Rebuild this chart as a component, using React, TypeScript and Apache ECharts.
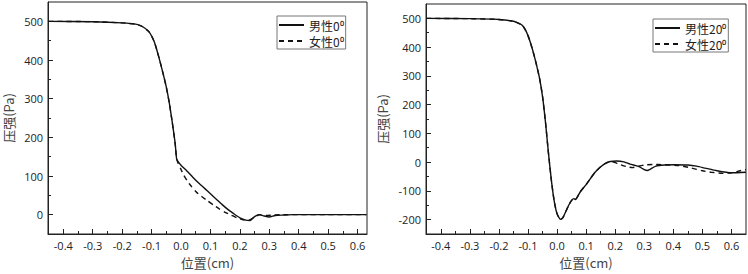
import { useEffect, useRef } from "react";
import * as echarts from "echarts";

// ---- data (x in cm, pressure in Pa) ----
const male0: [number, number][] = [
  [-0.45, 500], [-0.3, 499], [-0.2, 496], [-0.15, 492], [-0.13, 486], [-0.11, 474],
  [-0.1, 462], [-0.09, 445], [-0.08, 420], [-0.07, 392], [-0.06, 362], [-0.05, 330],
  [-0.04, 290], [-0.03, 240], [-0.02, 185], [-0.015, 145], [-0.01, 137], [0, 128],
  [0.02, 113], [0.04, 97], [0.06, 82], [0.08, 68], [0.1, 54], [0.12, 40], [0.14, 26],
  [0.16, 13], [0.18, 2], [0.2, -8], [0.22, -14], [0.235, -15], [0.25, -5], [0.265, 0],
  [0.28, -3], [0.3, -6], [0.32, -2], [0.35, -1], [0.38, 0], [0.5, 0], [0.63, 0],
];
const female0: [number, number][] = [
  [-0.45, 500], [-0.3, 499], [-0.2, 496], [-0.15, 492], [-0.13, 486], [-0.11, 474],
  [-0.1, 462], [-0.09, 445], [-0.08, 420], [-0.07, 392], [-0.06, 362], [-0.05, 330],
  [-0.04, 290], [-0.03, 240], [-0.02, 185], [-0.015, 145], [-0.01, 133], [0, 117],
  [0.01, 101], [0.02, 89], [0.03, 78], [0.05, 60], [0.07, 47], [0.09, 36], [0.11, 25],
  [0.13, 15], [0.15, 6], [0.17, -1], [0.19, -8], [0.21, -13], [0.23, -14], [0.25, -6],
  [0.27, 0], [0.29, -2], [0.31, -1], [0.34, 0], [0.5, 0], [0.63, 0],
];
const male20: [number, number][] = [
  [-0.45, 500], [-0.3, 499], [-0.2, 496], [-0.15, 490], [-0.13, 482], [-0.12, 476],
  [-0.11, 462], [-0.1, 440], [-0.09, 410], [-0.08, 375], [-0.07, 335], [-0.06, 290],
  [-0.05, 228], [-0.04, 140], [-0.03, 35], [-0.02, -60], [-0.01, -135], [0, -180],
  [0.012, -199], [0.02, -193], [0.03, -172], [0.04, -150], [0.05, -133], [0.058, -127],
  [0.063, -130], [0.08, -103], [0.1, -78], [0.114, -58], [0.13, -36], [0.148, -18],
  [0.165, -5], [0.183, 2], [0.205, 4], [0.23, 1], [0.251, -7], [0.28, -15], [0.3, -26],
  [0.31, -29], [0.32, -25], [0.34, -14], [0.37, -10], [0.4, -9], [0.45, -10],
  [0.48, -14], [0.51, -21], [0.55, -30], [0.6, -37], [0.65, -35],
];
const female20: [number, number][] = [
  [-0.45, 500], [-0.3, 499], [-0.2, 496], [-0.15, 490], [-0.13, 482], [-0.12, 476],
  [-0.11, 462], [-0.1, 440], [-0.09, 410], [-0.08, 375], [-0.07, 335], [-0.06, 290],
  [-0.05, 228], [-0.04, 140], [-0.03, 35], [-0.02, -60], [-0.01, -135], [0, -180],
  [0.012, -199], [0.02, -193], [0.03, -172], [0.04, -150], [0.05, -133], [0.058, -127],
  [0.063, -130], [0.08, -103], [0.1, -78], [0.114, -58], [0.13, -36], [0.148, -18],
  [0.165, -5], [0.183, 1], [0.195, 0], [0.21, -6], [0.24, -16], [0.26, -19], [0.28, -14],
  [0.3, -10], [0.33, -8], [0.37, -9], [0.42, -12], [0.46, -20], [0.5, -30], [0.53, -35],
  [0.57, -39], [0.6, -37], [0.63, -30], [0.65, -26],
];

const seriesNames = ["男性0⁰", "女性0⁰", "男性20⁰", "女性20⁰"];
const xMajor = [-0.4, -0.3, -0.2, -0.1, 0, 0.1, 0.2, 0.3, 0.4, 0.5, 0.6];
const xMinor = [-0.35, -0.25, -0.15, -0.05, 0.05, 0.15, 0.25, 0.35, 0.45, 0.55];
const yMajorLeft = [0, 100, 200, 300, 400, 500];
const yMinorLeft = [50, 150, 250, 350, 450];
const yMajorRight = [-200, -100, 0, 100, 200, 300, 400, 500];
const yMinorRight = [-150, -50, 50, 150, 250, 350, 450];
const xTitle = "位置(cm)";
const yTitle = "压强(Pa)";

const AXIS = "#222";
const LABEL_FONT = { fontFamily: "'Open Sans', sans-serif", fontSize: 11, color: "#222" };
const NAME_FONT = { fontFamily: "'Noto Sans CJK SC', sans-serif", fontSize: 13, color: "#444" };

function xAxes(grid: number, min: number, max: number) {
  return [
    {
      type: "value", gridIndex: grid, min, max, position: "bottom",
      axisLine: { show: true, onZero: false, lineStyle: { color: AXIS, width: 1 } },
      axisTick: { show: true, inside: true, length: 5, customValues: xMajor, lineStyle: { color: AXIS } },
      axisLabel: { customValues: xMajor, formatter: (v: number) => v.toFixed(1), margin: 6, ...LABEL_FONT },
      splitLine: { show: false },
      name: xTitle, nameLocation: "middle", nameGap: 22, nameTextStyle: NAME_FONT,
    },
    {
      type: "value", gridIndex: grid, min, max, position: "bottom",
      axisLine: { show: false, onZero: false },
      axisTick: { show: true, inside: true, length: 3, customValues: xMinor, lineStyle: { color: AXIS } },
      axisLabel: { show: false },
      splitLine: { show: false },
    },
  ];
}

function yAxes(grid: number, min: number, max: number, major: number[], minor: number[], gap: number) {
  return [
    {
      type: "value", gridIndex: grid, min, max, position: "left",
      axisLine: { show: true, onZero: false, lineStyle: { color: AXIS, width: 1 } },
      axisTick: { show: true, inside: true, length: 5, customValues: major, lineStyle: { color: AXIS } },
      axisLabel: { customValues: major, margin: 5, ...LABEL_FONT },
      splitLine: { show: false },
      name: yTitle, nameLocation: "middle", nameGap: gap, nameTextStyle: NAME_FONT,
    },
    {
      type: "value", gridIndex: grid, min, max, position: "left",
      axisLine: { show: false, onZero: false },
      axisTick: { show: true, inside: true, length: 3, customValues: minor, lineStyle: { color: AXIS } },
      axisLabel: { show: false },
      splitLine: { show: false },
    },
  ];
}

function lineSeries(name: string, data: [number, number][], axisIdx: number, dashed: boolean) {
  return {
    type: "line", name, data, xAxisIndex: axisIdx, yAxisIndex: axisIdx,
    symbol: "none", smooth: 0.2,
    lineStyle: { color: "#111", width: 1.4, type: dashed ? [5, 4] : "solid" },
    itemStyle: { color: "#111" },
  };
}

function legend(names: string[], left: number, top: number) {
  return {
    data: names, orient: "vertical", left, top,
    itemWidth: 25, itemHeight: 14, itemGap: 2, padding: [2, 2, 1, 1],
    borderColor: "#777", borderWidth: 1,
    itemStyle: { opacity: 0 },
    textStyle: { fontFamily: "'Noto Sans CJK SC', sans-serif", fontSize: 12, lineHeight: 14, color: "#222" },
  };
}

export default function App() {
  const ref = useRef<HTMLDivElement>(null);
  useEffect(() => {
    document.body.style.margin = "0";
    if (!ref.current) return;
    const chart = echarts.init(ref.current, undefined, { renderer: "svg" });
    chart.setOption({
      animation: false,
      backgroundColor: "#fff",
      grid: [
        { left: 48, top: 2, width: 319, height: 237, show: true, borderColor: AXIS, borderWidth: 1, containLabel: false },
        { left: 426, top: 4, width: 320, height: 236, show: true, borderColor: AXIS, borderWidth: 1, containLabel: false },
      ],
      xAxis: [...xAxes(0, -0.452, 0.632), ...xAxes(1, -0.451, 0.65)],
      yAxis: [
        ...yAxes(0, -50, 550, yMajorLeft, yMinorLeft, 33),
        ...yAxes(1, -250, 550, yMajorRight, yMinorRight, 37),
      ],
      legend: [
        legend([seriesNames[0], seriesNames[1]], 277, 16),
        legend([seriesNames[2], seriesNames[3]], 653, 19),
      ],
      series: [
        lineSeries(seriesNames[0], male0, 0, false),
        lineSeries(seriesNames[1], female0, 0, true),
        lineSeries(seriesNames[2], male20, 2, false),
        lineSeries(seriesNames[3], female20, 2, true),
      ],
    });
    return () => chart.dispose();
  }, []);
  return <div ref={ref} style={{ width: 748, height: 274 }} />;
}
